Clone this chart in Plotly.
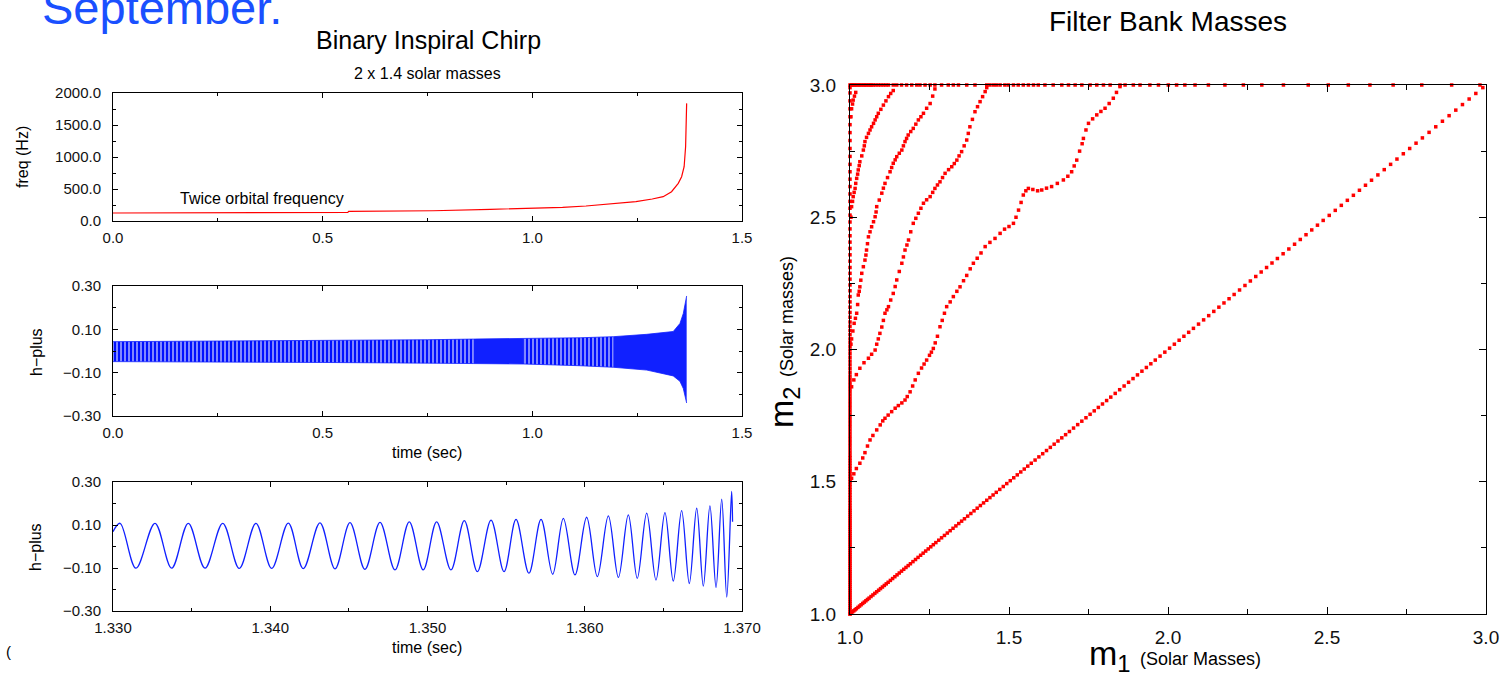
import plotly.graph_objects as go

W, H = 1505, 679
FONT = "Liberation Sans, Arial, Helvetica, sans-serif"
RED = "#ff0000"
BLUE = "#1020ff"

# ---------------- data: frequency chirp ----------------
freq_t = [0.0, 0.247, 0.249, 0.56, 0.562, 0.763, 0.90, 1.0, 1.072, 1.128, 1.175, 1.247,
          1.286, 1.312, 1.332, 1.348, 1.356, 1.362, 1.3655, 1.367, 1.368]
freq_hz = [125, 125, 135, 135, 150, 160, 183, 198, 214, 234, 260, 302,
           344, 380, 458, 589, 692, 848, 1160, 1500, 1838]

# ---------------- data: h-plus envelope (full signal) ----------------
env_t = [0.0, 0.25, 0.5, 0.75, 0.86, 0.98, 1.0, 1.114, 1.193, 1.273, 1.336, 1.352, 1.360, 1.364, 1.368]
env_upper = [0.043, 0.045, 0.047, 0.052, 0.055, 0.058, 0.058, 0.061, 0.066, 0.077, 0.090, 0.127, 0.173, 0.220, 0.254]
env_lower = [-0.049, -0.050, -0.053, -0.056, -0.058, -0.060, -0.061, -0.068, -0.075, -0.088, -0.115, -0.140, -0.173, -0.204, -0.240]
# index ranges of the envelope where the trace looks striped (aliased) or solid
env_segments = [(0, 4, "striped"), (4, 5, "solid"), (5, 8, "striped"), (8, 14, "solid")]

# ---------------- data: h-plus zoom (extrema) ----------------
zoom_t = [1.33000, 1.33045, 1.33146, 1.33267, 1.33373, 1.33479, 1.33585, 1.33698, 1.33803,
          1.33909, 1.34009, 1.34115, 1.34210, 1.34316, 1.34412, 1.34507, 1.34602, 1.34698,
          1.34793, 1.34884, 1.34973, 1.35058, 1.35149, 1.35234, 1.35317, 1.35404, 1.35487,
          1.35563, 1.35645, 1.35722, 1.35796, 1.35864, 1.35938, 1.36012, 1.36080, 1.36150,
          1.36214, 1.36277, 1.36334, 1.36394, 1.36453, 1.36510, 1.36563, 1.36616, 1.36665,
          1.36712, 1.36754, 1.36796, 1.36835, 1.36871, 1.36903, 1.36934, 1.36940]
zoom_h = [0.069, 0.108, -0.101, 0.108, -0.101, 0.108, -0.101, 0.108, -0.102,
          0.108, -0.102, 0.109, -0.103, 0.110, -0.104, 0.111, -0.106, 0.112,
          -0.109, 0.115, -0.109, 0.115, -0.109, 0.120, -0.117, 0.123, -0.117,
          0.126, -0.124, 0.126, -0.129, 0.131, -0.132, 0.136, -0.140, 0.142,
          -0.144, 0.147, -0.148, 0.155, -0.156, 0.158, -0.161, 0.167, -0.172,
          0.178, -0.184, 0.189, -0.191, 0.220, -0.235, 0.256, 0.115]

# ---------------- data: filter bank masses ----------------
diag_m = [1.000, 1.004, 1.008, 1.012, 1.016, 1.020, 1.025, 1.030, 1.035, 1.040, 1.045, 1.050, 1.055,
          1.060, 1.066, 1.072, 1.078, 1.084, 1.090, 1.096, 1.102, 1.108, 1.114, 1.120, 1.127, 1.134,
          1.141, 1.148, 1.155, 1.162, 1.169, 1.176, 1.183, 1.190, 1.198, 1.206, 1.214, 1.222, 1.230,
          1.238, 1.246, 1.254, 1.262, 1.270, 1.279, 1.288, 1.297, 1.306, 1.315, 1.324, 1.333, 1.342,
          1.351, 1.360, 1.370, 1.380, 1.390, 1.400, 1.410, 1.420, 1.430, 1.440, 1.450, 1.460, 1.471,
          1.482, 1.493, 1.504, 1.515, 1.526, 1.537, 1.548, 1.559, 1.570, 1.582, 1.594, 1.606, 1.618,
          1.630, 1.642, 1.654, 1.666, 1.678, 1.690, 1.703, 1.716, 1.729, 1.742, 1.755, 1.768, 1.781,
          1.794, 1.807, 1.820, 1.834, 1.848, 1.862, 1.876, 1.890, 1.904, 1.918, 1.932, 1.946, 1.960,
          1.975, 1.990, 2.005, 2.020, 2.035, 2.050, 2.065, 2.080, 2.096, 2.112, 2.128, 2.144, 2.160,
          2.176, 2.192, 2.208, 2.225, 2.242, 2.259, 2.276, 2.293, 2.310, 2.327, 2.344, 2.362, 2.380,
          2.398, 2.416, 2.434, 2.452, 2.470, 2.488, 2.507, 2.526, 2.545, 2.564, 2.583, 2.602, 2.621,
          2.640, 2.660, 2.680, 2.700, 2.720, 2.740, 2.760, 2.780, 2.800, 2.821, 2.842, 2.863, 2.884,
          2.905, 2.926, 2.947, 2.968, 2.990]

top_m1 = [1.000, 1.004, 1.008, 1.012, 1.016, 1.021, 1.026, 1.031, 1.036, 1.042, 1.047, 1.052, 1.058,
          1.063, 1.068, 1.073, 1.081, 1.089, 1.097, 1.105, 1.113, 1.121, 1.136, 1.147, 1.162, 1.178,
          1.194, 1.210, 1.220, 1.236, 1.252, 1.267, 1.288, 1.309, 1.325, 1.341, 1.367, 1.393, 1.430,
          1.440, 1.451, 1.461, 1.472, 1.487, 1.498, 1.514, 1.529, 1.545, 1.561, 1.577, 1.592, 1.613,
          1.639, 1.666, 1.687, 1.708, 1.729, 1.755, 1.776, 1.797, 1.818, 1.849, 1.865, 1.891, 1.912,
          1.943, 1.970, 2.001, 2.027, 2.053, 2.085, 2.127, 2.179, 2.237, 2.295, 2.363, 2.441, 2.504,
          2.567, 2.635, 2.708, 2.798, 2.892, 2.981]

left_m2 = [1.000, 1.008, 1.016, 1.024, 1.032, 1.040, 1.048, 1.056, 1.064, 1.072, 1.080, 1.088, 1.096,
           1.104, 1.112, 1.120, 1.128, 1.136, 1.144, 1.152, 1.160, 1.168, 1.176, 1.184, 1.192, 1.200,
           1.208, 1.216, 1.224, 1.232, 1.240, 1.248, 1.256, 1.264, 1.272, 1.280, 1.288, 1.296, 1.304,
           1.312, 1.320, 1.328, 1.336, 1.344, 1.352, 1.360, 1.368, 1.376, 1.384, 1.392, 1.400, 1.410,
           1.420, 1.430, 1.440, 1.450, 1.460, 1.470, 1.480, 1.490, 1.500, 1.510, 1.520, 1.530, 1.540,
           1.550, 1.560, 1.570, 1.580, 1.590, 1.600, 1.612, 1.624, 1.636, 1.648, 1.660, 1.672, 1.684,
           1.696, 1.708, 1.720, 1.732, 1.744, 1.756, 1.768, 1.780, 1.792, 1.804, 1.816, 1.828, 1.840,
           1.852, 1.864, 1.876, 1.888, 1.900, 1.914, 1.928, 1.942, 1.956, 1.970, 1.984, 1.998, 2.012,
           2.026, 2.040, 2.056, 2.072, 2.088, 2.104, 2.122, 2.140, 2.160, 2.180, 2.200, 2.222, 2.244,
           2.266, 2.288, 2.310, 2.334, 2.358, 2.382, 2.406, 2.430, 2.456, 2.482, 2.508, 2.534, 2.560,
           2.588, 2.616, 2.644, 2.672, 2.700, 2.730, 2.760, 2.790, 2.820, 2.850, 2.880, 2.910, 2.940,
           2.970, 2.990]

# curve starting at m2 = 1.5 on the left edge
c1_m1 = [1.005, 1.012, 1.020, 1.031, 1.040, 1.047, 1.055, 1.063, 1.072, 1.084, 1.095, 1.103, 1.110,
         1.120, 1.131, 1.142, 1.152, 1.163, 1.173, 1.180, 1.189, 1.197, 1.205, 1.215, 1.225, 1.233,
         1.241, 1.250, 1.256, 1.262, 1.268, 1.275, 1.283, 1.290, 1.297, 1.304, 1.315, 1.325, 1.336,
         1.346, 1.357, 1.367, 1.378, 1.388, 1.400, 1.412, 1.425, 1.440, 1.456, 1.472, 1.486, 1.500,
         1.514, 1.522, 1.530, 1.538, 1.545, 1.553, 1.561, 1.575, 1.590, 1.603, 1.618, 1.634, 1.652,
         1.671, 1.685, 1.697, 1.705, 1.713, 1.722, 1.730, 1.734, 1.742, 1.750, 1.763, 1.776, 1.789,
         1.802, 1.815, 1.828, 1.838, 1.849]
c1_m2 = [1.513, 1.530, 1.550, 1.570, 1.590, 1.610, 1.635, 1.658, 1.675, 1.696, 1.715, 1.730, 1.740,
         1.752, 1.765, 1.778, 1.788, 1.798, 1.809, 1.822, 1.840, 1.862, 1.885, 1.910, 1.930, 1.945,
         1.960, 1.978, 1.990, 2.004, 2.025, 2.050, 2.086, 2.110, 2.137, 2.162, 2.180, 2.200, 2.220,
         2.237, 2.260, 2.280, 2.305, 2.326, 2.345, 2.365, 2.389, 2.405, 2.420, 2.439, 2.455, 2.465,
         2.477, 2.500, 2.527, 2.556, 2.584, 2.600, 2.609, 2.605, 2.600, 2.603, 2.610, 2.616, 2.628,
         2.641, 2.655, 2.672, 2.694, 2.716, 2.750, 2.778, 2.798, 2.830, 2.855, 2.872, 2.887, 2.900,
         2.912, 2.930, 2.950, 2.972, 2.994]

# curve starting at m2 ~ 1.86
c2_m1 = [1.005, 1.012, 1.020, 1.031, 1.044, 1.058, 1.068, 1.079, 1.084, 1.089, 1.094, 1.100, 1.105,
         1.110, 1.116, 1.121, 1.128, 1.136, 1.142, 1.147, 1.155, 1.163, 1.168, 1.173, 1.179, 1.184,
         1.191, 1.199, 1.207, 1.215, 1.223, 1.231, 1.241, 1.252, 1.260, 1.267, 1.275, 1.283, 1.291,
         1.299, 1.310, 1.320, 1.328, 1.336, 1.343, 1.351, 1.359, 1.367, 1.372, 1.377, 1.385, 1.393,
         1.401, 1.409, 1.417, 1.425, 1.430]
c2_m2 = [1.859, 1.885, 1.905, 1.929, 1.950, 1.967, 1.982, 1.998, 2.020, 2.040, 2.061, 2.085, 2.110,
         2.137, 2.150, 2.162, 2.187, 2.212, 2.238, 2.263, 2.295, 2.326, 2.350, 2.376, 2.395, 2.414,
         2.445, 2.477, 2.496, 2.515, 2.534, 2.553, 2.566, 2.578, 2.594, 2.609, 2.622, 2.634, 2.650,
         2.666, 2.680, 2.691, 2.703, 2.716, 2.732, 2.748, 2.770, 2.792, 2.817, 2.842, 2.870, 2.899,
         2.918, 2.937, 2.956, 2.975, 2.990]

# curve starting at m2 ~ 2.02
c3_m1 = [1.003, 1.005, 1.009, 1.013, 1.017, 1.021, 1.024, 1.026, 1.029, 1.031, 1.034, 1.037, 1.042,
         1.047, 1.050, 1.052, 1.055, 1.058, 1.063, 1.068, 1.074, 1.079, 1.082, 1.084, 1.092, 1.100,
         1.105, 1.110, 1.118, 1.126, 1.131, 1.136, 1.142, 1.147, 1.155, 1.163, 1.168, 1.173, 1.178,
         1.183, 1.191, 1.199, 1.207, 1.215, 1.223, 1.231, 1.241, 1.252, 1.260, 1.267]
c3_m2 = [2.020, 2.040, 2.070, 2.099, 2.118, 2.137, 2.170, 2.206, 2.220, 2.237, 2.262, 2.288, 2.313,
         2.338, 2.357, 2.376, 2.400, 2.426, 2.445, 2.464, 2.483, 2.502, 2.520, 2.540, 2.565, 2.591,
         2.610, 2.628, 2.650, 2.672, 2.688, 2.704, 2.717, 2.729, 2.742, 2.754, 2.770, 2.786, 2.798,
         2.811, 2.824, 2.836, 2.852, 2.868, 2.880, 2.893, 2.912, 2.930, 2.958, 2.985]

# curve starting at m2 ~ 2.5
c4_m1 = [1.003, 1.005, 1.008, 1.010, 1.013, 1.016, 1.018, 1.021, 1.024, 1.026, 1.029, 1.031, 1.037,
         1.042, 1.045, 1.047, 1.052, 1.058, 1.063, 1.068, 1.074, 1.079, 1.084, 1.089, 1.097, 1.105,
         1.113, 1.121, 1.128, 1.136]
c4_m2 = [2.500, 2.540, 2.560, 2.578, 2.594, 2.609, 2.628, 2.647, 2.663, 2.679, 2.695, 2.710, 2.732,
         2.754, 2.770, 2.786, 2.802, 2.817, 2.830, 2.842, 2.855, 2.868, 2.880, 2.893, 2.908, 2.924,
         2.940, 2.956, 2.968, 2.979]

# short curve near the corner
c5_m1 = [1.003, 1.005, 1.008, 1.010, 1.014, 1.018]
c5_m2 = [2.880, 2.910, 2.928, 2.943, 2.958, 2.972]

# ---------------- figure ----------------
fig = go.Figure()


def px_x(p):
    return p / W


def px_y(p):
    return 1 - p / H


# top: frequency
fig.add_trace(go.Scatter(x=freq_t, y=freq_hz, mode="lines", line=dict(color=RED, width=1.2),
                         xaxis="x", yaxis="y", showlegend=False, hoverinfo="skip"))

# middle: envelope band, striped where the dense oscillation aliases
for i0, i1, kind in env_segments:
    ts = env_t[i0:i1 + 1]
    fig.add_trace(go.Scatter(x=ts, y=env_upper[i0:i1 + 1], mode="lines",
                             line=dict(color=BLUE, width=0.8),
                             xaxis="x2", yaxis="y2", showlegend=False, hoverinfo="skip"))
    if kind == "striped":
        fill_kw = dict(fill="tonexty", fillcolor="rgba(0,0,0,0)",
                       fillpattern=dict(shape="|", size=4, solidity=0.75, fgcolor="#0010ff",
                                        bgcolor="white", fillmode="replace"))
    else:
        fill_kw = dict(fill="tonexty", fillcolor=BLUE)
    fig.add_trace(go.Scatter(x=ts, y=env_lower[i0:i1 + 1], mode="lines",
                             line=dict(color=BLUE, width=0.8), **fill_kw,
                             xaxis="x2", yaxis="y2", showlegend=False, hoverinfo="skip"))

# bottom: zoomed waveform
fig.add_trace(go.Scatter(x=zoom_t, y=zoom_h, mode="lines",
                         line=dict(color=BLUE, width=1.3, shape="spline", smoothing=1.0),
                         xaxis="x3", yaxis="y3", showlegend=False, hoverinfo="skip"))

# right: filter bank masses
mk = dict(color=RED, size=3.5, symbol="square", line=dict(width=0))
series = [
    (diag_m, diag_m),
    (top_m1, [3.0] * len(top_m1)),
    ([1.0] * len(left_m2), left_m2),
    (c1_m1, c1_m2),
    (c2_m1, c2_m2),
    (c3_m1, c3_m2),
    (c4_m1, c4_m2),
    (c5_m1, c5_m2),
]
for xs, ys in series:
    fig.add_trace(go.Scatter(x=xs, y=ys, mode="markers", marker=mk, cliponaxis=False,
                             xaxis="x4", yaxis="y4", showlegend=False, hoverinfo="skip"))


def ax(domain, rng, dtick, minor_dtick, fmt, size, anchor, standoff, ticklen=5, minorlen=3):
    return dict(domain=domain, range=rng, dtick=dtick, tick0=rng[0], tickformat=fmt,
                showline=True, linecolor="black", linewidth=1, mirror="allticks",
                ticks="inside", ticklen=ticklen, tickcolor="black", tickwidth=1,
                showgrid=False, zeroline=False, anchor=anchor, automargin=False,
                ticklabelstandoff=standoff,
                tickfont=dict(family=FONT, size=size, color="#111111"),
                minor=dict(ticks="inside", dtick=minor_dtick, ticklen=minorlen, tickcolor="black",
                           showgrid=False))


lx = [px_x(113), px_x(742)]
fig.update_layout(
    template="none",
    width=W, height=H, margin=dict(l=0, r=0, t=0, b=0, autoexpand=False),
    paper_bgcolor="white", plot_bgcolor="white",
    font=dict(family=FONT, color="black"),
    xaxis=ax(lx, [0, 1.5], 0.5, 0.25, ".1f", 15, "y", 3),
    yaxis=ax([px_y(221), px_y(93)], [0, 2000], 500, 250, ".1f", 15, "x", 8),
    xaxis2=ax(lx, [0, 1.5], 0.5, 0.25, ".1f", 15, "y2", 3),
    yaxis2=ax([px_y(416), px_y(286)], [-0.3, 0.3], 0.2, 0.1, ".2f", 15, "x2", 8),
    xaxis3=ax(lx, [1.33, 1.37], 0.01, 0.005, ".3f", 15, "y3", 3),
    yaxis3=ax([px_y(611), px_y(482)], [-0.3, 0.3], 0.2, 0.1, ".2f", 15, "x3", 8),
    xaxis4=ax([px_x(850), px_x(1486)], [1.0, 3.0], 0.5, 0.25, ".1f", 19, "y4", 6, 7, 5),
    yaxis4=ax([px_y(614), px_y(85)], [1.0, 3.0], 0.5, 0.25, ".1f", 19, "x4", 9, 7, 5),
)


def ann(text, x, y, size, xanchor="center", yanchor="middle", color="black", angle=0):
    fig.add_annotation(text=text, x=px_x(x), y=px_y(y), xref="paper", yref="paper",
                       showarrow=False, xanchor=xanchor, yanchor=yanchor, textangle=angle,
                       font=dict(family=FONT, size=size, color=color))


ann("September.", 40, 8, 47, xanchor="left", color="#1a50ff")
ann("Binary Inspiral Chirp", 428, 40, 25)
ann("2 x 1.4 solar masses", 427, 73, 16)
ann("Twice orbital frequency", 178, 198, 16, xanchor="left")
ann("freq (Hz)", 22, 157, 16, angle=-90)
ann("h\u2212plus", 36, 352, 16, angle=-90)
ann("h\u2212plus", 35, 547, 16, angle=-90)
ann("time (sec)", 427, 452, 16)
ann("time (sec)", 427, 647, 16)
ann("Filter Bank Masses", 1168, 22, 28)
ann("m<sub>2</sub> <span style='font-size:18px'>(Solar masses)</span>", 783, 342, 34, angle=-90)
ann("m<sub>1</sub> <span style='font-size:18px'>(Solar Masses)</span>", 1175, 655, 34)
ann("(", 4, 651, 15, xanchor="left")

fig.write_html("out.html",
               config={"displayModeBar": False, "staticPlot": True},
               post_script="document.body.style.margin='0';document.body.style.overflow='hidden';")
